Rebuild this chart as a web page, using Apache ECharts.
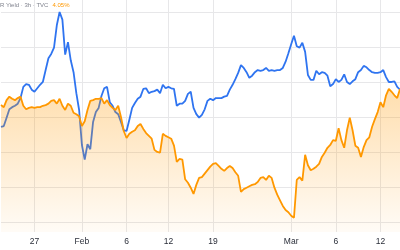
<!DOCTYPE html>
<html>
<head>
<meta charset="utf-8">
<script src="https://cdn.jsdelivr.net/npm/echarts@6/dist/echarts.min.js"></script>
<style>
html,body{margin:0;padding:0;background:#fff;}
#c{width:400px;height:250px;}
</style>
</head>
<body>
<div id="c"></div>
<script>
// Trading days shown (3h-style sessions, 4 samples per day)
const days = ['Jan 22','Jan 23','Jan 26','Jan 27','Jan 28','Jan 29','Jan 30','Feb 2','Feb 3','Feb 4','Feb 5','Feb 6','Feb 9','Feb 10','Feb 11','Feb 12','Feb 13','Feb 17','Feb 18','Feb 19','Feb 20','Feb 23','Feb 24','Feb 25','Feb 26','Feb 27','Mar 2','Mar 3','Mar 4','Mar 5','Mar 6','Mar 9','Mar 10','Mar 11','Mar 12','Mar 13'];
const slots = ['00h','06h','12h','18h'];

// Tick labels on the time axis (category index -> text)
const tickIdx = [12, 29, 45, 60, 76, 104, 120, 136];
const tickText = ['27', 'Feb', '6', '12', '19', 'Mar', '6', '12'];

// Title text
const titleMain = 'R Yield · 3h · TVC';

// Main series (orange, yield %)
const yieldMain = [
4.027,4.024,4.034,4.039,4.036,4.034,4.037,4.039,4.026,4.021,
4.023,4.024,4.023,4.024,4.024,4.026,4.027,4.029,4.033,4.034,
4.029,4.036,4.026,4.020,4.029,4.026,4.016,4.014,4.011,3.997,
4.004,4.020,4.033,4.034,4.036,4.036,4.037,4.029,4.034,4.027,
4.023,4.020,4.026,4.010,3.990,3.980,3.986,3.989,3.991,3.997,
4.000,3.993,3.987,3.983,3.979,3.963,3.960,3.959,3.986,3.983,
3.981,3.979,3.969,3.946,3.950,3.949,3.921,3.916,3.909,3.900,
3.913,3.923,3.924,3.929,3.934,3.939,3.943,3.944,3.940,3.936,
3.933,3.937,3.940,3.937,3.931,3.926,3.903,3.907,3.909,3.911,
3.913,3.914,3.917,3.923,3.924,3.920,3.926,3.923,3.909,3.899,
3.891,3.883,3.877,3.874,3.869,3.866,3.920,3.924,3.919,3.956,
3.941,3.934,3.936,3.939,3.943,3.953,3.959,3.966,3.970,3.977,
3.976,3.994,3.977,3.966,3.991,4.009,3.991,3.969,3.966,3.953,
3.967,3.977,3.981,3.996,4.007,4.017,4.031,4.024,4.041,4.050,
4.046,4.041,4.037,4.050
];

// Comparison series (blue)
const yieldCompare = [
3.996,3.997,4.009,4.021,4.024,4.026,4.029,4.037,4.053,4.057,
4.056,4.049,4.046,4.051,4.056,4.060,4.077,4.094,4.100,4.109,
4.141,4.160,4.149,4.099,4.117,4.091,4.074,4.044,4.020,3.970,
3.949,3.971,3.964,4.003,4.017,4.023,4.040,4.051,4.053,4.031,
4.026,4.017,4.014,4.003,3.991,3.990,4.006,4.023,4.030,4.036,
4.039,4.050,4.051,4.044,4.046,4.047,4.049,4.044,4.056,4.051,
4.053,4.051,4.050,4.026,4.029,4.029,4.033,4.043,4.046,4.023,
4.014,4.009,4.013,4.021,4.033,4.036,4.034,4.037,4.037,4.037,
4.039,4.040,4.049,4.056,4.064,4.073,4.084,4.080,4.074,4.066,
4.069,4.074,4.077,4.076,4.077,4.080,4.076,4.077,4.076,4.077,
4.077,4.080,4.089,4.101,4.114,4.126,4.111,4.109,4.116,4.103,
4.070,4.063,4.063,4.076,4.071,4.074,4.073,4.069,4.054,4.057,
4.064,4.060,4.063,4.071,4.060,4.057,4.061,4.064,4.074,4.077,
4.083,4.081,4.077,4.074,4.073,4.073,4.074,4.077,4.067,4.060,
4.060,4.061,4.053,4.049
];

const categories = [];
days.forEach(d => slots.forEach(s => categories.push(d + ' ' + s)));
const tickMap = {};
tickIdx.forEach((k, j) => { tickMap[k] = tickText[j]; });
const isTick = (i) => tickMap[i] !== undefined;

const ORANGE = '#ff9800';
const BLUE = '#2f74f0';
const GRID = '#e7e7e9';
const FONT = 'Liberation Sans, Arial, sans-serif';

const chart = echarts.init(document.getElementById('c'), null, {renderer: 'canvas'});
chart.setOption({
  animation: false,
  backgroundColor: '#ffffff',
  grid: [
    {left: 1, right: 0, top: 0, bottom: 18},
    {left: 1, right: 0, top: 12, bottom: 28}
  ],
  xAxis: [
    {
      type: 'category', gridIndex: 0, data: categories, boundaryGap: false,
      axisLine: {show: false}, axisTick: {show: false},
      axisLabel: {
        interval: (i) => isTick(i),
        formatter: (v, i) => tickMap[i] || '',
        color: '#2a2e39', fontSize: 8.5, fontFamily: FONT, margin: 5
      },
      splitLine: {show: true, interval: (i) => isTick(i), lineStyle: {color: GRID, width: 1}}
    },
    {type: 'value', gridIndex: 1, show: false, min: 0, max: 1}
  ],
  yAxis: [
    {type: 'value', gridIndex: 0, min: 3.8457, max: 4.1771, show: false, splitLine: {show: false}},
    {
      type: 'value', gridIndex: 1, min: 0, max: 6, interval: 1,
      axisLine: {show: false}, axisTick: {show: false}, axisLabel: {show: false},
      splitLine: {show: true, lineStyle: {color: GRID, width: 1}}
    }
  ],
  graphic: [
    {type: 'text', x: 0, y: 5.5, silent: true,
     style: {text: titleMain, fill: '#80838e', font: '6px ' + FONT, verticalAlign: 'middle'}},
    {type: 'text', x: 52.5, y: 5.5, silent: true,
     style: {text: yieldMain[yieldMain.length - 1].toFixed(2) + '%', fill: ORANGE, font: '6px ' + FONT, verticalAlign: 'middle'}}
  ],
  series: [
    {
      type: 'line', xAxisIndex: 0, yAxisIndex: 0, data: yieldCompare,
      showSymbol: false, symbol: 'none', z: 2,
      lineStyle: {color: BLUE, width: 1.8}
    },
    {
      type: 'line', xAxisIndex: 0, yAxisIndex: 0, data: yieldMain,
      showSymbol: false, symbol: 'none', z: 3,
      lineStyle: {color: ORANGE, width: 1.8},
      areaStyle: {
        origin: 'start',
        color: new echarts.graphic.LinearGradient(0, 0, 0, 1, [
          {offset: 0, color: 'rgba(255,152,0,0.45)'},
          {offset: 1, color: 'rgba(255,152,0,0.05)'}
        ])
      }
    }
  ]
});
</script>
</body>
</html>
